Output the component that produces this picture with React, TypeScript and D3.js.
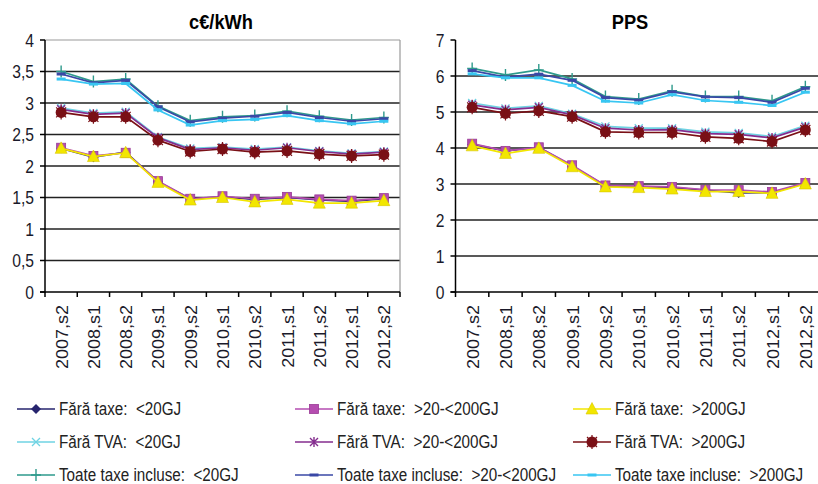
import React from "react";
import * as d3 from "d3";

const categories = ["2007,s2","2008,s1","2008,s2","2009,s1","2009,s2","2010,s1","2010,s2","2011,s1","2011,s2","2012,s1","2012,s2"];

const seriesNames = [
  "Fără taxe:  <20GJ","Fără taxe:  >20-<200GJ","Fără taxe:  >200GJ",
  "Fără TVA:  <20GJ","Fără TVA:  >20-<200GJ","Fără TVA:  >200GJ",
  "Toate taxe incluse:  <20GJ","Toate taxe incluse:  >20-<200GJ","Toate taxe incluse:  >200GJ",
];
const seriesColors = ["#26246E","#B54DB0","#F2E600","#6FD3E3","#842C8E","#7A1016","#2E9A8C","#3A48A6","#38C6F2"];
const seriesMarkers = ["diamond","square","triangle","x","star","circle","plus","dash","dash"];

// c€/kWh
const eurNoTax20 = [2.28,2.14,2.22,1.75,1.48,1.51,1.47,1.50,1.46,1.44,1.48];
const eurNoTax200 = [2.29,2.16,2.21,1.76,1.48,1.52,1.48,1.51,1.47,1.45,1.49];
const eurNoTaxOver = [2.28,2.15,2.21,1.74,1.46,1.50,1.43,1.47,1.41,1.41,1.45];
const eurNoVat20 = [2.92,2.84,2.86,2.46,2.28,2.30,2.27,2.30,2.24,2.20,2.23];
const eurNoVat200 = [2.90,2.82,2.84,2.45,2.26,2.29,2.25,2.29,2.23,2.19,2.22];
const eurNoVatOver = [2.85,2.78,2.78,2.41,2.23,2.27,2.22,2.24,2.19,2.16,2.18];
const eurAll20 = [3.50,3.34,3.38,2.95,2.72,2.78,2.80,2.87,2.79,2.73,2.77];
const eurAll200 = [3.46,3.32,3.36,2.94,2.70,2.76,2.79,2.85,2.77,2.71,2.75];
const eurAllOver = [3.38,3.30,3.31,2.89,2.65,2.72,2.74,2.80,2.72,2.67,2.71];

// PPS
const ppsNoTax20 = [4.10,3.92,4.02,3.50,2.95,2.93,2.90,2.83,2.75,2.76,3.02];
const ppsNoTax200 = [4.12,3.92,4.02,3.52,2.96,2.94,2.92,2.84,2.83,2.78,3.03];
const ppsNoTaxOver = [4.06,3.85,3.99,3.48,2.92,2.90,2.86,2.79,2.79,2.74,3.00];
const ppsNoVat20 = [5.25,5.10,5.17,4.95,4.60,4.55,4.55,4.45,4.42,4.32,4.62];
const ppsNoVat200 = [5.20,5.06,5.13,4.92,4.55,4.50,4.51,4.40,4.38,4.28,4.58];
const ppsNoVatOver = [5.13,4.96,5.03,4.87,4.45,4.43,4.43,4.31,4.27,4.18,4.50];
const ppsAll20 = [6.21,6.03,6.17,5.92,5.43,5.36,5.59,5.43,5.43,5.31,5.70];
const ppsAll200 = [6.15,5.97,6.05,5.88,5.40,5.33,5.56,5.42,5.40,5.27,5.66];
const ppsAllOver = [6.06,5.95,5.95,5.74,5.30,5.25,5.48,5.32,5.27,5.18,5.55];

const eurTicks = [0,0.5,1,1.5,2,2.5,3,3.5,4];
const ppsTicks = [0,1,2,3,4,5,6,7];

const eurSeries = [eurNoTax20,eurNoTax200,eurNoTaxOver,eurNoVat20,eurNoVat200,eurNoVatOver,eurAll20,eurAll200,eurAllOver];
const ppsSeries = [ppsNoTax20,ppsNoTax200,ppsNoTaxOver,ppsNoVat20,ppsNoVat200,ppsNoVatOver,ppsAll20,ppsAll200,ppsAllOver];

const FONT = "'Liberation Sans', Arial, sans-serif";
const SX = 0.87;

function Marker({ type, color, x, y }: { type: string; color: string; x: number; y: number }) {
  switch (type) {
    case "diamond":
      return <path d={`M${x},${y - 5}L${x + 5},${y}L${x},${y + 5}L${x - 5},${y}Z`} fill={color} />;
    case "square":
      return <rect x={x - 4.5} y={y - 4.5} width={9} height={9} fill={color} stroke="#9A3A96" strokeWidth={0.8} />;
    case "triangle":
      return <path d={`M${x},${y - 6.5}L${x + 6},${y + 5}L${x - 6},${y + 5}Z`} fill={color} stroke="#D8C800" strokeWidth={0.6} />;
    case "x":
      return <path d={`M${x - 4},${y - 4}L${x + 4},${y + 4}M${x - 4},${y + 4}L${x + 4},${y - 4}`} stroke={color} strokeWidth={1.3} />;
    case "star":
      return <path d={`M${x - 4},${y - 4}L${x + 4},${y + 4}M${x - 4},${y + 4}L${x + 4},${y - 4}M${x},${y - 5}L${x},${y + 5}`} stroke={color} strokeWidth={1.4} />;
    case "circle":
      return (
        <g>
          <circle cx={x} cy={y} r={5.5} fill={color} />
          <path d={`M${x},${y - 7}L${x},${y + 7}M${x - 5},${y - 5}L${x + 5},${y + 5}M${x - 5},${y + 5}L${x + 5},${y - 5}`} stroke={color} strokeWidth={1.2} />
        </g>
      );
    case "plus":
      return <path d={`M${x - 5},${y}L${x + 5},${y}M${x},${y - 6}L${x},${y + 6}`} stroke={color} strokeWidth={1.4} />;
    case "dash":
      return <path d={`M${x - 4.5},${y}L${x + 4.5},${y}`} stroke={color} strokeWidth={3} />;
  }
  return null;
}

function Panel({ x0, x1, yMax, ticks, data, title, titleX, fmt, topBorder, rightBorder }:
  { x0: number; x1: number; yMax: number; ticks: number[]; data: number[][]; title: string; titleX: number; fmt: (v: number) => string; topBorder: boolean; rightBorder: boolean }) {
  const top = 40, bottom = 292;
  const x = d3.scaleBand<string>().domain(categories).range([x0, x1]);
  const y = d3.scaleLinear().domain([0, yMax]).range([bottom, top]);
  const cx = (c: string) => (x(c) as number) + x.bandwidth() / 2;
  const line = d3.line<number>().x((_, i) => cx(categories[i])).y((v) => y(v));
  const bounds = categories.map((c) => x(c) as number).concat([x1]);
  return (
    <g>
      <text transform={`translate(${titleX},29) scale(${SX},1)`} textAnchor="middle" fontFamily={FONT} fontWeight="bold" fontSize={21} fill="#000">{title}</text>
      {ticks.filter((t) => t > 0 && t < yMax).map((t) => (
        <line key={t} x1={x0} x2={x1} y1={y(t)} y2={y(t)} stroke="#222" strokeWidth={1.5} />
      ))}
      {topBorder && <line x1={x0} x2={x1} y1={y(yMax)} y2={y(yMax)} stroke="#999" strokeWidth={1.2} />}
      {rightBorder && <line x1={x1} x2={x1} y1={top} y2={bottom} stroke="#999" strokeWidth={1.2} />}
      {ticks.map((t) => (
        <g key={"t" + t}>
          <line x1={x0 - 5} x2={x0} y1={y(t)} y2={y(t)} stroke="#000" strokeWidth={1.5} />
          <text transform={`translate(${x0 - 11},${y(t) + 6.5}) scale(${SX},1)`} textAnchor="end" fontFamily={FONT} fontSize={18} fill="#1a1a2a">{fmt(t)}</text>
        </g>
      ))}
      <line x1={x0} x2={x0} y1={top} y2={bottom + 0.75} stroke="#000" strokeWidth={1.5} />
      <line x1={x0 - 5} x2={x1} y1={bottom} y2={bottom} stroke="#000" strokeWidth={1.5} />
      {bounds.map((b, i) => (
        <line key={"b" + i} x1={b} x2={b} y1={bottom} y2={bottom + 5} stroke="#000" strokeWidth={1.5} />
      ))}
      {categories.map((c) => (
        <text key={c} transform={`translate(${cx(c) + 6.5},${bottom + 13}) scale(${SX},1) rotate(-90)`} textAnchor="end" fontFamily={FONT} fontSize={18} fill="#1a1a2a">{c}</text>
      ))}
      {data.map((s, si) => (
        <g key={si}>
          <path d={line(s) as string} fill="none" stroke={seriesColors[si]} strokeWidth={1.7} />
          {s.map((v, i) => (
            <Marker key={i} type={seriesMarkers[si]} color={seriesColors[si]} x={cx(categories[i])} y={y(v)} />
          ))}
        </g>
      ))}
    </g>
  );
}

const legendCols = [17, 295, 573];
const legendRows = [409, 442, 475];

export default function App() {
  const fmtEur = (v: number) => String(v).replace(".", ",");
  const fmtPps = (v: number) => String(v);
  return (
    <div style={{ position: "absolute", left: 0, top: 0 }}>
      <svg width={818} height={484} style={{ display: "block", background: "#fff" }}>
        <Panel x0={45} x1={400} yMax={4} ticks={eurTicks} data={eurSeries} title="c€/kWh" titleX={221} fmt={fmtEur} topBorder={true} rightBorder={true} />
        <Panel x0={455.5} x1={822} yMax={7} ticks={ppsTicks} data={ppsSeries} title="PPS" titleX={630} fmt={fmtPps} topBorder={false} rightBorder={false} />
        {seriesNames.map((n, i) => {
          const lx = legendCols[i % 3];
          const ly = legendRows[Math.floor(i / 3)];
          return (
            <g key={n}>
              <line x1={lx} x2={lx + 38} y1={ly} y2={ly} stroke={seriesColors[i]} strokeWidth={1.7} />
              <Marker type={seriesMarkers[i]} color={seriesColors[i]} x={lx + 19} y={ly} />
              <text transform={`translate(${lx + 42},${ly + 6}) scale(${SX},1)`} fontFamily={FONT} fontSize={17.5} fill="#222" style={{ whiteSpace: "pre" }}>{n}</text>
            </g>
          );
        })}
      </svg>
    </div>
  );
}
